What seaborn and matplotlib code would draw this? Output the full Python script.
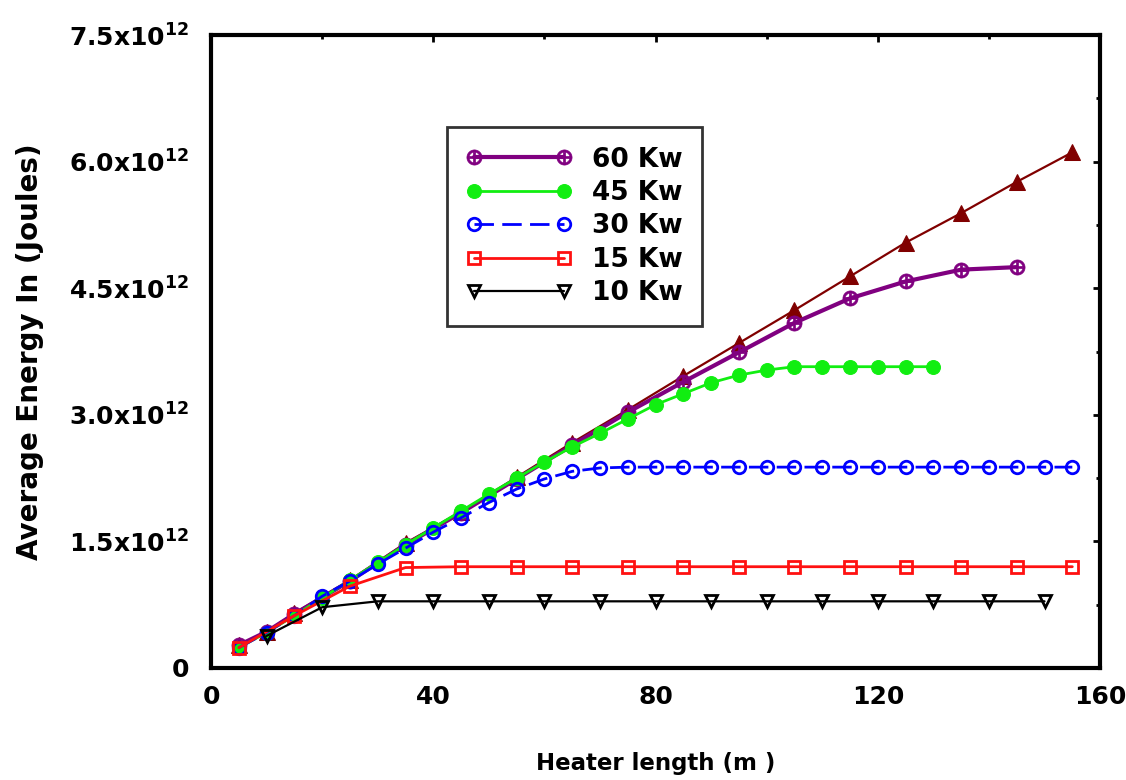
import numpy as np
import pandas as pd
import matplotlib
matplotlib.use("Agg")
import matplotlib.pyplot as plt
from matplotlib.ticker import FuncFormatter, MultipleLocator
import seaborn as sns

# data (energy in units of 1e12 J)
x_75 = [5, 10, 15, 25, 35, 45, 55, 65, 75, 85, 95, 105, 115, 125, 135, 145, 155]
e_75 = [0.27, 0.43, 0.65, 1.04, 1.48, 1.85, 2.26, 2.67, 3.06, 3.46, 3.85, 4.24, 4.64, 5.04, 5.39, 5.76, 6.11]

x_60 = [5, 10, 15, 25, 35, 45, 55, 65, 75, 85, 95, 105, 115, 125, 135, 145]
e_60 = [0.27, 0.43, 0.64, 1.03, 1.46, 1.84, 2.24, 2.64, 3.03, 3.39, 3.74, 4.09, 4.38, 4.58, 4.72, 4.75]

x_45 = list(range(5, 131, 5))
e_45 = [0.24, 0.42, 0.62, 0.83, 1.04, 1.25, 1.46, 1.66, 1.86, 2.06, 2.25, 2.44, 2.62,
        2.78, 2.95, 3.12, 3.25, 3.38, 3.47, 3.53, 3.57, 3.57, 3.57, 3.57, 3.57, 3.57]

x_30 = list(range(5, 156, 5))
e_30 = [0.24, 0.42, 0.62, 0.85, 1.03, 1.23, 1.42, 1.61, 1.78, 1.96, 2.12, 2.24, 2.33, 2.37,
        2.38, 2.38, 2.38, 2.38, 2.38, 2.38, 2.38, 2.38, 2.38, 2.38, 2.38, 2.38, 2.38, 2.38,
        2.38, 2.38, 2.38]

x_15 = list(range(5, 156, 10))
e_15 = [0.24, 0.62, 0.97, 1.19, 1.20, 1.20, 1.20, 1.20, 1.20, 1.20, 1.20, 1.20, 1.20, 1.20, 1.20, 1.20]

x_10 = list(range(10, 151, 10))
e_10 = [0.38, 0.72, 0.79, 0.79, 0.79, 0.79, 0.79, 0.79, 0.79, 0.79, 0.79, 0.79, 0.79, 0.79, 0.79]

sns.set_style("white")
plt.rcParams["font.family"] = ["DejaVu Sans"]
plt.rcParams["font.weight"] = "bold"
plt.rcParams["mathtext.fontset"] = "custom"
plt.rcParams["mathtext.rm"] = "DejaVu Sans:bold"
plt.rcParams["mathtext.it"] = "DejaVu Sans:bold"
plt.rcParams["mathtext.bf"] = "DejaVu Sans:bold"
for key in ["text.color", "axes.labelcolor", "xtick.color", "ytick.color"]:
    plt.rcParams[key] = "black"

fig = plt.figure(figsize=(11.26, 7.8), dpi=100)
ax = fig.add_axes([0.1874, 0.1436, 0.7896, 0.8115])

maroon = "#800000"
purple = "#800080"

sns.lineplot(x=x_75, y=e_75, ax=ax, color=maroon, lw=1.6, marker="^",
             markersize=12, markeredgecolor=maroon, markerfacecolor=maroon, label="_75")
sns.lineplot(x=x_60, y=e_60, ax=ax, color=purple, lw=3, marker=r"$\oplus$",
             markersize=11, markeredgewidth=0.4, markeredgecolor=purple,
             markerfacecolor=purple, label="60 Kw")
sns.lineplot(x=x_45, y=e_45, ax=ax, color="#11ee11", lw=2, marker="o",
             markersize=10, markeredgecolor="#11ee11", markerfacecolor="#11ee11", label="45 Kw")
sns.lineplot(x=x_30, y=e_30, ax=ax, color="#0000ff", lw=2, marker="o",
             markersize=9, markerfacecolor="none", markeredgecolor="#0000ff", markeredgewidth=2,
             label="30 Kw")
ax.lines[-1].set_dashes([7, 3])
sns.lineplot(x=x_15, y=e_15, ax=ax, color="#ff1111", lw=2, marker="s",
             markersize=9, markerfacecolor="none", markeredgecolor="#ff1111", markeredgewidth=2,
             label="15 Kw")
sns.lineplot(x=x_10, y=e_10, ax=ax, color="black", lw=1.6, marker="v",
             markersize=9, markerfacecolor="none", markeredgecolor="black", markeredgewidth=2,
             label="10 Kw")

ax.set_xlim(0, 160)
ax.set_ylim(0, 7.5)
ax.xaxis.set_major_locator(MultipleLocator(40))
ax.yaxis.set_major_locator(MultipleLocator(1.5))
ax.yaxis.set_minor_locator(MultipleLocator(0.75))
ax.xaxis.set_minor_locator(MultipleLocator(20))


def yfmt(v, pos):
    if abs(v) < 1e-9:
        return "0"
    return r"$%.1f\mathrm{x}10^{12}$" % v


ax.yaxis.set_major_formatter(FuncFormatter(yfmt))
ax.xaxis.set_major_formatter(FuncFormatter(lambda v, p: "%d" % v))
ax.tick_params(axis="both", which="both", direction="in", width=2, color="black",
               top=True, right=True, labelsize=18)
ax.tick_params(which="major", length=5, pad=12)
ax.tick_params(axis="y", which="major", pad=16)
ax.tick_params(which="minor", length=3)
for lbl in ax.get_xticklabels() + ax.get_yticklabels():
    lbl.set_fontweight("bold")

for sp in ax.spines.values():
    sp.set_color("black")
    sp.set_linewidth(3)

ax.set_xlabel("Heater length (m )", fontsize=16.5, fontweight="bold", labelpad=31)
ax.set_ylabel("Average Energy In (Joules)", fontsize=20, fontweight="bold", labelpad=18)

handles, labels = ax.get_legend_handles_labels()
keep = [(h, l) for h, l in zip(handles, labels) if not l.startswith("_")]
leg = ax.legend([h for h, _ in keep], [l for _, l in keep], loc="upper left",
                bbox_to_anchor=(0.265, 0.855), frameon=True, fancybox=False,
                edgecolor="black", handlelength=4.0, numpoints=2,
                labelspacing=0.28, borderpad=0.75, handletextpad=0.75, borderaxespad=0,
                prop={"weight": "bold", "size": 19})
leg.get_frame().set_linewidth(2)

fig.savefig("out.png", dpi=100)
